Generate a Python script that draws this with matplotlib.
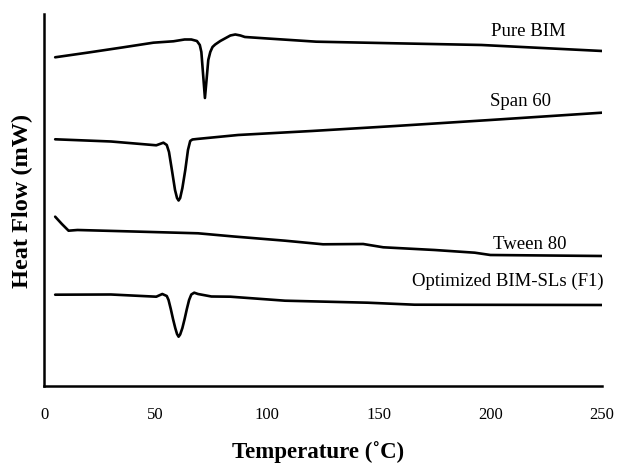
import matplotlib
matplotlib.use("Agg")
import matplotlib.pyplot as plt

# DSC thermograms, heat flow in arbitrary units (stacked traces)
bim_t = [5, 20, 35, 49, 58, 63, 66, 68.5, 69.8, 70.5, 71.3, 72.1, 72.9, 73.6, 74.5, 75.5,
         76.7, 79, 83.5, 85.7, 88, 90, 100, 122, 157, 196, 250]
bim_hf = [328.7, 333.5, 338.5, 343.3, 344.7, 346.5, 346.5, 345, 341, 334, 311, 288, 308, 326, 334, 339,
          341.5, 345, 350.5, 351.5, 350.5, 349, 347.5, 344.3, 342.7, 341, 335]

span_t = [5, 30, 50.3, 53.5, 55, 56, 57.3, 58.7, 59.6, 60.3, 61, 62, 63.3, 64.5, 65.5, 66.5,
          68.5, 87, 120, 157.5, 200, 250]
span_hf = [246.7, 244.5, 240.7, 243.3, 241, 234, 216, 196, 188, 185.5, 188, 198, 216, 236, 245, 246.5,
           247, 251, 255, 260, 266, 273.3]

tween_t = [5, 8, 11, 15, 40, 69, 85, 108, 125, 143, 152, 175, 193, 200, 250]
tween_hf = [169.3, 162, 155.3, 156, 154.5, 152.7, 149.5, 145.3, 141.7, 142, 138.7, 136, 133.3, 131, 130]

f1_t = [5, 30, 50.3, 53, 55, 55.8, 56.8, 57.8, 58.8, 59.6, 60.3, 61, 62, 63, 64, 65, 66, 67.3,
        69, 75, 83.5, 108, 145, 166, 250]
f1_hf = [91.3, 91.5, 89.3, 92, 90, 86, 77, 67, 58, 52, 49.3, 51.5, 58, 67, 77, 86, 91.5, 93.3,
         92, 89.5, 89.3, 85.3, 83.3, 81.3, 81]

labels = ["Pure BIM", "Span 60", "Tween 80", "Optimized BIM-SLs (F1)"]
label_x = [217, 213.5, 217.5, 207.7]
label_y = [354, 284, 141, 104.5]

xticks = [0, 50, 100, 150, 200, 250]

plt.rcParams["font.family"] = ["Liberation Serif", "DejaVu Serif"]

fig = plt.figure(figsize=(6.19, 4.63), dpi=100)
ax = fig.add_axes([0.0711, 0.1663, 0.9014, 0.8035])

for t, hf in [(bim_t, bim_hf), (span_t, span_hf), (tween_t, tween_hf), (f1_t, f1_hf)]:
    ax.plot(t, hf, color="black", linewidth=1.9, solid_joinstyle="round", solid_capstyle="round")

for lab, lx, ly in zip(labels, label_x, label_y):
    ax.text(lx, ly, lab, ha="center", va="center", fontsize=13.5)

ax.set_xlim(0, 250)
ax.set_ylim(0, 372)
ax.set_xticks(xticks)
ax.set_xticklabels([str(v) for v in xticks], fontsize=12)
ax.tick_params(axis="x", length=0, pad=15)
ax.set_yticks([])
for side in ["top", "right"]:
    ax.spines[side].set_visible(False)
for side in ["left", "bottom"]:
    ax.spines[side].set_linewidth(1.8)

fig.text(0.514, 0.024, "Temperature (\u02daC)", ha="center", va="center", fontsize=16.5, fontweight="bold")
fig.text(0.037, 0.566, "Heat Flow (mW)", ha="center", va="center", rotation=90, fontsize=17.5, fontweight="bold")

fig.savefig("out.png", dpi=100)
